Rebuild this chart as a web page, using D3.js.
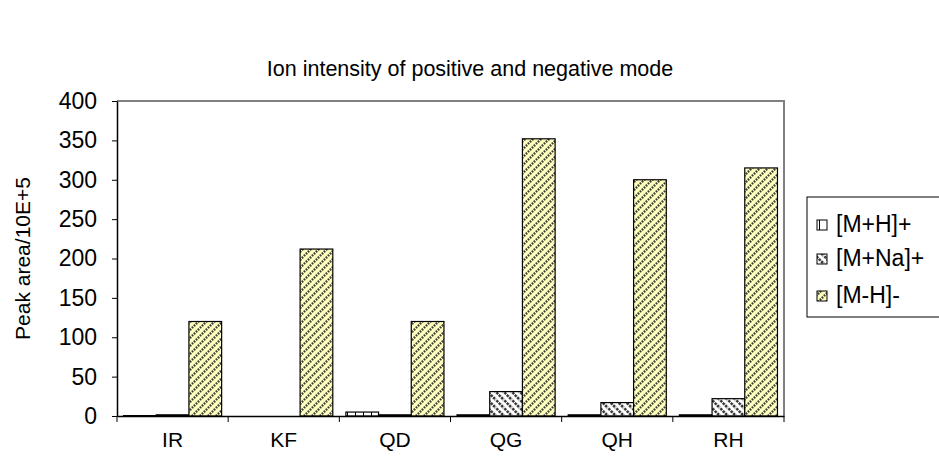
<!DOCTYPE html>
<html><head><meta charset="utf-8">
<script src="https://cdn.jsdelivr.net/npm/d3@7"></script>
<style>body{margin:0;background:#fff}svg{display:block;font-family:"Liberation Sans",Arial,sans-serif}</style>
</head><body><svg id="c" width="939" height="461"></svg>
<script>
const categories = ["IR","KF","QD","QG","QH","RH"];
const seriesNames = ["[M+H]+","[M+Na]+","[M-H]-"];
const mH = [0.5, 0, 5, 1.5, 1.5, 1.5];
const mNa = [1.5, 0, 1.5, 31, 17, 22];
const mMinusH = [120, 212, 120, 352, 300, 315];
const yTicks = [0,50,100,150,200,250,300,350,400];
const values = [mH, mNa, mMinusH];

(function(){
const svg = d3.select("#c");
const FF = "Liberation Sans, Arial, sans-serif";
const pLeft = 117, pRight = 784, pTop = 101, pBottom = 416;
const x = d3.scaleBand().domain(categories).range([pLeft, pRight]).paddingInner(0).paddingOuter(0);
const xs = d3.scaleBand().domain(seriesNames).range([0, x.bandwidth()]).paddingInner(0).paddingOuter(0.2);
const y = d3.scaleLinear().domain([0,400]).range([pBottom, pTop]);

const defs = svg.append("defs");
const p1 = defs.append("pattern").attr("id","p1").attr("patternUnits","userSpaceOnUse").attr("width",8).attr("height",8);
p1.append("rect").attr("width",8).attr("height",8).attr("fill","#fff");
p1.append("rect").attr("x",3).attr("width",1).attr("height",8).attr("fill","#000");
const p2 = defs.append("pattern").attr("id","p2").attr("patternUnits","userSpaceOnUse").attr("width",8).attr("height",8);
p2.append("rect").attr("width",8).attr("height",8).attr("fill","#fff");
p2.append("path").attr("d","M-2,-2 L10,10 M-2,6 L2,10 M6,-2 L10,2").attr("stroke","#3a3a3a").attr("stroke-width",2.6).attr("stroke-dasharray","2.5,0.9");
const p3 = defs.append("pattern").attr("id","p3").attr("patternUnits","userSpaceOnUse").attr("width",8).attr("height",8);
p3.append("rect").attr("width",8).attr("height",8).attr("fill","#ffffc0");
p3.append("path").attr("d","M-2,10 L10,-2 M-2,2 L2,-2 M6,10 L10,6").attr("stroke","#3a3a30").attr("stroke-width",2.4).attr("stroke-dasharray","1.6,1.2");
const fills = ["url(#p1)","url(#p2)","url(#p3)"];

svg.append("text").attr("x",470).attr("y",76).attr("text-anchor","middle").attr("font-size",21.5)
  .text("Ion intensity of positive and negative mode");

svg.append("path").attr("d",`M${pLeft},${pTop} H${pRight} V${pBottom}`).attr("fill","none").attr("stroke","#808080").attr("stroke-width",2);

seriesNames.forEach((s,si)=>{
  svg.append("g").selectAll("rect").data(categories).join("rect")
    .attr("x",c=>x(c)+xs(s)).attr("width",xs.bandwidth())
    .attr("y",(c,i)=>y(values[si][i])).attr("height",(c,i)=>y(0)-y(values[si][i]))
    .attr("fill",fills[si]).attr("stroke","#000").attr("stroke-width",1.2)
    .attr("display",(c,i)=>values[si][i]>0?null:"none");
});

const ya = svg.append("g").attr("transform",`translate(${pLeft},0)`)
  .call(d3.axisLeft(y).tickValues(yTicks).tickSize(5).tickPadding(15).tickSizeOuter(0));
ya.select(".domain").attr("stroke","#000").attr("stroke-width",1.5);
ya.selectAll("text").attr("font-size",23).attr("font-family",FF).attr("fill","#000");
const xa = svg.append("g").attr("transform",`translate(0,${pBottom})`)
  .call(d3.axisBottom(x).tickSize(0).tickPadding(16));
xa.select(".domain").attr("stroke","#000").attr("stroke-width",1.5);
xa.selectAll("text").attr("font-size",21).attr("font-family",FF).attr("fill","#000");
const bounds = categories.map(c=>x(c)).concat([pRight]);
svg.append("g").selectAll("line").data(bounds).join("line")
  .attr("x1",d=>d).attr("x2",d=>d).attr("y1",pBottom).attr("y2",pBottom+6).attr("stroke","#000");

svg.append("text").attr("transform",`translate(30,${(pTop+pBottom)/2}) rotate(-90)`).attr("text-anchor","middle")
  .attr("font-size",21).text("Peak area/10E+5");

const lg = svg.append("g");
lg.append("rect").attr("x",807).attr("y",197).attr("width",140).attr("height",120).attr("fill","#fff").attr("stroke","#000").attr("stroke-width",1);
const ly = [232,266,303];
seriesNames.forEach((s,i)=>{
  lg.append("rect").attr("x",817).attr("y",ly[i]-12).attr("width",10).attr("height",10).attr("fill",fills[i]).attr("stroke","#000");
  lg.append("text").attr("x",836).attr("y",ly[i]).attr("font-size",23).text(s);
});
})();
</script></body></html>
